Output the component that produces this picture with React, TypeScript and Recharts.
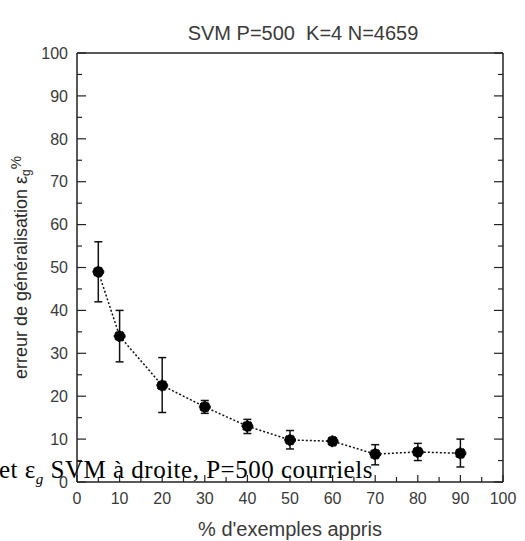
import { ComposedChart, Line, XAxis, YAxis, ErrorBar, Label, ReferenceLine } from "recharts";

// % d'exemples appris
const trainPct = [5, 10, 20, 30, 40, 50, 60, 70, 80, 90];
// erreur de généralisation (%)
const errMean = [49, 34, 22.5, 17.5, 13, 9.8, 9.5, 6.5, 7, 6.7];
const errLow = [42, 28, 16.2, 16, 11.3, 7.7, 9, 4, 5, 3.5];
const errHigh = [56, 40, 29, 19, 14.6, 12, 10.2, 8.7, 9, 10];

// every 5 units; labels only on multiples of 10
const axisTicks = [0, 5, 10, 15, 20, 25, 30, 35, 40, 45, 50, 55, 60, 65, 70, 75, 80, 85, 90, 95, 100];

const data = trainPct.map((x, i) => ({
  x,
  y: errMean[i],
  err: [errMean[i] - errLow[i], errHigh[i] - errMean[i]],
}));

const W = 525;
const H = 541;
const M = { top: 53, right: 22, bottom: 14, left: 17 };
const AXIS = "#222";
const TEXT = "#3a3a3a";
const SANS = "'Liberation Sans', Arial, sans-serif";
const TICK_MARGIN = 10;

const XTick = ({ x, y, payload }: any) => {
  const v = payload.value;
  const major = v % 10 === 0;
  const ay = y - TICK_MARGIN;
  return (
    <g>
      <line x1={x} x2={x} y1={ay} y2={ay - (major ? 7 : 5)} stroke={AXIS} strokeWidth={1.2} />
      {major && (
        <text x={x} y={ay + TICK_MARGIN} dy="0.75em" textAnchor="middle" fill={TEXT} fontSize={16} fontFamily={SANS}>
          {v}
        </text>
      )}
    </g>
  );
};

const YTick = ({ x, y, payload }: any) => {
  const v = payload.value;
  const major = v % 10 === 0;
  const ax = x + TICK_MARGIN;
  const rx = W - M.right;
  const len = major ? 9 : 5;
  return (
    <g>
      <line x1={ax} x2={ax + len} y1={y} y2={y} stroke={AXIS} strokeWidth={1.2} />
      <line x1={rx - len} x2={rx} y1={y} y2={y} stroke={AXIS} strokeWidth={1.2} />
      {major && (
        <text x={ax - TICK_MARGIN + 1} y={y} dy="0.36em" textAnchor="end" fill={TEXT} fontSize={16} fontFamily={SANS}>
          {v}
        </text>
      )}
    </g>
  );
};

const YTitle = ({ viewBox }: any) => {
  const cx = viewBox.x + 4;
  const cy = viewBox.y + viewBox.height / 2;
  return (
    <text
      x={cx}
      y={cy}
      transform={`rotate(-90 ${cx} ${cy})`}
      textAnchor="middle"
      dominantBaseline="central"
      fill="#2a2a2a"
      fontSize={18}
      fontFamily={SANS}
    >
      erreur de généralisation ε
      <tspan dy={5} fontSize={12}>g</tspan>
      <tspan dy={-11} fontSize={15}>%</tspan>
    </text>
  );
};

export default function App() {
  return (
    <div style={{ position: "absolute", left: 0, top: 0, width: W, height: H, background: "#fff" }}>
      <div
        style={{
          position: "absolute",
          left: 0,
          width: 606,
          top: 22,
          textAlign: "center",
          fontFamily: SANS,
          fontSize: 20,
          color: TEXT,
          whiteSpace: "pre",
        }}
      >
        SVM P=500  K=4 N=4659
      </div>
      <ComposedChart width={W} height={H} data={data} margin={M}>
        <XAxis
          dataKey="x"
          type="number"
          domain={[0, 100]}
          ticks={axisTicks}
          interval={0}
          height={45}
          tickLine={false}
          tickSize={0}
          tickMargin={TICK_MARGIN}
          axisLine={{ stroke: AXIS, strokeWidth: 1.5 }}
          tick={<XTick />}
        >
          <Label value="% d'exemples appris" position="insideBottom" offset={-9} fill={TEXT} fontSize={20} fontFamily={SANS} />
        </XAxis>
        <YAxis
          type="number"
          domain={[0, 100]}
          ticks={axisTicks}
          interval={0}
          width={60}
          tickLine={false}
          tickSize={0}
          tickMargin={TICK_MARGIN}
          axisLine={{ stroke: AXIS, strokeWidth: 1.5 }}
          tick={<YTick />}
        >
          <Label content={YTitle} />
        </YAxis>
        <ReferenceLine y={100} stroke={AXIS} strokeWidth={1.5} />
        <ReferenceLine x={100} stroke={AXIS} strokeWidth={1.5} />

        <Line
          dataKey="y"
          type="linear"
          stroke="#111"
          strokeWidth={1.5}
          strokeDasharray="2 2"
          dot={{ r: 5.5, fill: "#000", stroke: "#000", strokeWidth: 1 }}
          activeDot={false}
          isAnimationActive={false}
        >
          <ErrorBar dataKey="err" direction="y" width={4} stroke="#111" strokeWidth={1.5} />
        </Line>
      </ComposedChart>
      <div
        style={{
          position: "absolute",
          left: -1,
          top: 456,
          fontFamily: "'Liberation Serif', 'Times New Roman', serif",
          fontSize: 25,
          letterSpacing: 0.5,
          lineHeight: "28px",
          color: "#000",
          whiteSpace: "nowrap",
          pointerEvents: "none",
        }}
      >
        et ε<sub style={{ fontStyle: "italic", fontSize: 15, lineHeight: 0 }}>g</sub> SVM à droite, P=500 courriels
      </div>
    </div>
  );
}
